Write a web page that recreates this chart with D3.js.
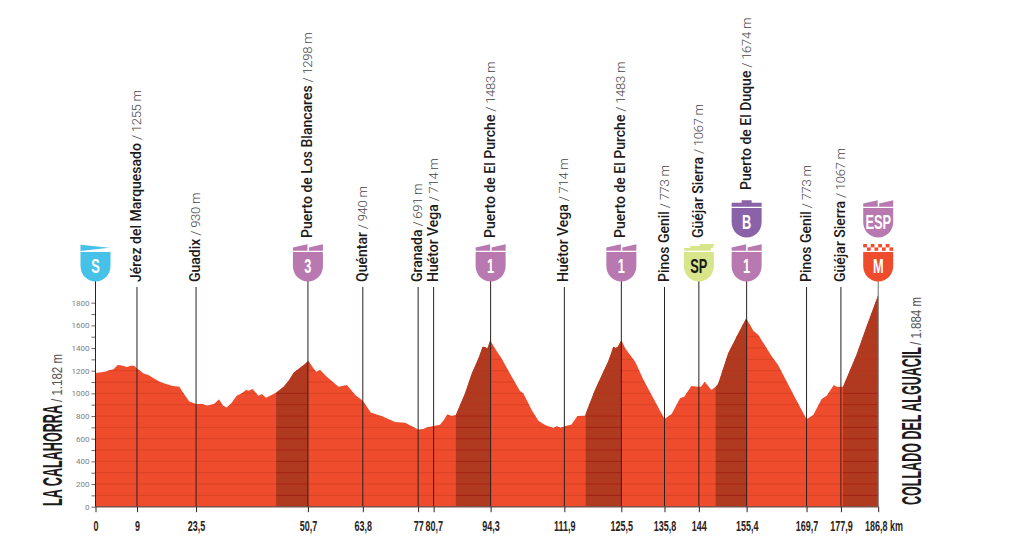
<!DOCTYPE html>
<html>
<head>
<meta charset="utf-8">
<script src="https://cdn.jsdelivr.net/npm/d3@7"></script>
<style>
  html, body { margin: 0; background: #fff; }
  svg { display: block; }
</style>
</head>
<body>
<div id="graph"></div>
<script>
// profile
const profileKm = [0, 2.3, 3.5, 4.3, 5.3, 6, 7.5, 8.5, 9.2, 10, 11.5, 12.6, 15.4, 18.2, 20, 21, 22.4, 24, 25.4, 26.6, 28.2, 29.5, 30.4, 31.3, 32.4, 33.7, 34.9, 36, 36.5, 37.5, 38.9, 39.7, 40.7, 43.1, 44.9, 46.1, 47.3, 48.9, 50, 50.8, 52, 52.7, 53.6, 55.2, 58, 60, 62, 63.8, 65.7, 68.7, 71.5, 73.9, 77, 78.2, 79.2, 82.2, 83, 84, 85, 86, 88.2, 89.8, 91.4, 92.4, 93.1, 93.5, 94.2, 95.3, 96.9, 98.9, 101.3, 102.1, 104.1, 105.7, 107.3, 109.3, 110.1, 111, 112.4, 113.6, 115, 116.8, 119.2, 121.2, 122.4, 123.6, 124.1, 124.6, 125.5, 126.4, 128.8, 130.8, 134, 135.8, 137.5, 139.5, 140.5, 142.2, 143.8, 144.5, 145.4, 147, 148, 148.6, 151, 153.4, 155.3, 157, 158.2, 161.3, 162.9, 166.5, 169.7, 171.3, 173.3, 174.5, 176.2, 176.9, 178.4, 181.6, 184, 186.8];
const profileElev = [1179, 1191, 1206, 1212, 1250, 1247, 1232, 1244, 1244, 1218, 1176, 1162, 1100, 1068, 1059, 1000, 929, 906, 906, 894, 903, 947, 894, 876, 912, 979, 1000, 1032, 1024, 1038, 979, 994, 962, 1006, 1059, 1112, 1182, 1229, 1259, 1288, 1221, 1191, 1206, 1147, 1059, 1074, 985, 935, 832, 794, 747, 741, 682, 685, 700, 724, 759, 815, 800, 809, 1000, 1176, 1309, 1412, 1406, 1391, 1468, 1397, 1309, 1176, 1020, 1000, 853, 759, 721, 694, 709, 697, 715, 726, 800, 803, 1029, 1191, 1285, 1412, 1400, 1406, 1468, 1397, 1279, 1118, 897, 774, 818, 956, 971, 1065, 1059, 1059, 1103, 1029, 1059, 1082, 1353, 1529, 1662, 1553, 1515, 1332, 1250, 994, 771, 809, 950, 979, 1074, 1059, 1059, 1338, 1588, 1868];

// where each marker sits on the distance scale, and what its tick says
const markerKm = [0, 9.9, 24, 50.7, 63.8, 77, 80.7, 94.3, 111.9, 125.5, 135.8, 144, 155.4, 169.7, 177.9, 186.8];
const markerLabels = ["0", "9", "23,5", "50,7", "63,8", "77", "80,7", "94,3", "111,9", "125,5", "135,8", "144", "155,4", "169,7", "177,9", "186,8 km"];

const passKm = [9.9, 24, 50.7, 63.8, 77, 80.7, 94.3, 111.9, 125.5, 135.8, 144, 155.4, 169.7, 177.9];
const passNames = ["Jérez del Marquesado", "Guadix", "Puerto de Los Blancares", "Quéntar", "Granada", "Huétor Vega", "Puerto de El Purche", "Huétor Vega", "Puerto de El Purche", "Pinos Genil", "Güéjar Sierra", "Puerto de El Duque", "Pinos Genil", "Güéjar Sierra"];
const passHeights = ["1255 m", "930 m", "1298 m", "940 m", "691 m", "714 m", "1483 m", "714 m", "1483 m", "773 m", "1067 m", "1674 m", "773 m", "1067 m"];
const passHasBadge = [false, false, true, false, false, false, true, false, true, false, true, true, false, false];
const passHasTwoBadges = [false, false, false, false, false, false, false, false, false, false, false, true, false, false];

const climbStart = [43.1, 86, 117, 148, 178.4];
const climbEnd = [50.7, 94.3, 125.5, 155.4, 186.8];
const climbGridTop = [1000, 800, 800, 1000, 1000];

const badgeKm = [0, 50.7, 94.3, 125.5, 144, 155.4, 155.4, 186.8, 186.8];
const badgeText = ["S", "3", "1", "1", "SP", "1", "B", "M", "ESP"];
const badgeKind = ["start", "climb", "climb", "climb", "sprint", "climb", "bonus", "finish", "climb"];
const badgeRow = [0, 0, 0, 0, 0, 0, 1, 0, 1];

const RED = "#ef4c2e", DARK = "#b03a20", PURPLE = "#b878b0", NARROW = "'Liberation Sans Narrow', 'Liberation Sans', sans-serif";
const badgeColor = { start: "#46c1e8", climb: PURPLE, sprint: "#d8e58a", bonus: "#8a62a8", finish: RED };

const width = 1013, height = 547;

const x = d3.scaleLinear().domain([0, 186.8]).range([95.5, 878.2]);
const y = d3.scaleLinear().domain([0, 1800]).range([506.7, 302.7]);

const svg = d3.select("#graph").append("svg").attr("width", width).attr("height", height);

const area = d3.area()
    .x((d, i) => x(profileKm[i]))
    .y0(y(0))
    .y1(d => y(d));

svg.append("clipPath").attr("id", "profile-clip")
    .append("path").attr("d", area(profileElev));

svg.append("path").attr("d", area(profileElev)).attr("fill", RED);

let inside = svg.append("g").attr("clip-path", "url(#profile-clip)");

climbStart.forEach(function(start, i) {
    inside.append("rect")
        .attr("x", x(start))
        .attr("y", y(1900))
        .attr("width", x(climbEnd[i]) - x(start))
        .attr("height", y(0) - y(1900))
        .attr("fill", DARK);
});

// faint height lines every 100 m, stronger inside the climbs
d3.range(100, 1900, 100).forEach(function(h) {
    inside.append("line")
        .attr("x1", x(0)).attr("x2", x(186.8))
        .attr("y1", y(h)).attr("y2", y(h))
        .attr("stroke", "#d63f22").attr("stroke-width", 0.8);
    climbStart.forEach(function(start, i) {
        inside.append("line")
            .attr("x1", x(start)).attr("x2", x(climbEnd[i]))
            .attr("y1", y(h)).attr("y2", y(h))
            .attr("stroke", h <= climbGridTop[i] ? "#8f1c10" : "#a5341c")
            .attr("stroke-width", 0.8);
    });
});

// elevation axis
let yAxis = svg.append("g")
    .attr("transform", `translate(${x(0)}, 0)`)
    .call(d3.axisLeft(y)
        .tickValues(d3.range(0, 1900, 100))
        .tickSize(4)
        .tickPadding(2)
        .tickFormat(d => d % 200 == 0 ? d : ""));
yAxis.select(".domain").remove();
yAxis.selectAll("line").attr("stroke", "#444").attr("stroke-width", 0.8);
yAxis.selectAll("text")
    .style("font-family", "Roboto, sans-serif")
    .style("font-size", "8px")
    .attr("fill", "#808080");

// marker lines
let badgeBottom = 281, lineTopPlain = 287;
svg.selectAll(".marker").data(markerKm).enter().append("line")
    .attr("class", "marker")
    .attr("x1", d => x(d)).attr("x2", d => x(d))
    .attr("y1", (d, i) => badgeKm.includes(d) ? badgeBottom : lineTopPlain)
    .attr("y2", y(0))
    .attr("stroke", (d, i) => i == markerKm.length - 1 ? "#6f6f6f" : "#2a2220")
    .attr("stroke-width", 1);

// distance axis
let xAxis = svg.append("g")
    .attr("transform", `translate(0, ${y(0)})`)
    .call(d3.axisBottom(x)
        .tickValues(markerKm)
        .tickSize(5.5)
        .tickPadding(8)
        .tickFormat((d, i) => markerLabels[i]));
xAxis.select(".domain").attr("stroke", "#7d5148").attr("stroke-width", 1.6).attr("d", `M${x(0)},0H${x(186.8)}`);
xAxis.selectAll("line").attr("stroke", "#2a2220");
xAxis.selectAll("text")
    .style("font-family", NARROW)
    .style("font-weight", "bold")
    .style("font-size", "15px")
    .attr("fill", "#2a2220")
    .attr("transform", "scale(0.6, 1)");
// the km suffix is hung off the last number, so the number stays on its line
xAxis.selectAll(".tick").filter(d => d == 186.8).select("text")
    .attr("x", 9);

// pass labels along the top
let labels = svg.append("g");
passNames.forEach(function(name, i) {
    let lift = passHasTwoBadges[i] ? 190 : passHasBadge[i] ? 238 : 282;
    let t = labels.append("text")
        .attr("transform", `translate(${x(passKm[i]) + 4}, ${lift}) rotate(-90)`)
        .style("font-family", "Roboto, sans-serif")
        .attr("fill", "#1d1a1a");
    t.append("tspan").style("font-weight", 500).style("font-size", "14px").text(name);
    t.append("tspan").style("font-weight", 300).style("font-size", "13px")
        .style("letter-spacing", "-0.25px")
        .attr("fill", "#444").text(" / " + passHeights[i]);
});

// shields
function shieldTop(g, kind, color) {
    if (kind == "climb") {
        g.append("path").attr("fill", color).attr("d", "M-15,-1.3 V-4.5 L-0.5,-7.7 V-1.3 Z");
        g.append("path").attr("fill", color).attr("d", "M1,-1.3 V-4.5 L15,-7.7 V-1.3 Z");
    } else if (kind == "bonus") {
        g.append("path").attr("fill", color).attr("d", "M-15,-1.2 V-5.2 H-5 V-7.8 H5 V-5.2 H15 V-1.2 Z");
    } else if (kind == "start") {
        g.append("path").attr("fill", color).attr("d", "M-15,-7.3 L14,-4.3 L-15,-1 Z");
    } else if (kind == "sprint") {
        g.append("rect").attr("fill", color).attr("x", 0.7).attr("y", -8).attr("width", 14.6).attr("height", 2);
        g.append("rect").attr("fill", color).attr("x", -8.7).attr("y", -6).attr("width", 22.7).attr("height", 2);
        g.append("rect").attr("fill", color).attr("x", -14.7).attr("y", -4).attr("width", 26.7).attr("height", 2.7);
    } else if (kind == "finish") {
        d3.range(8).forEach(function(c) {
            d3.range(2).forEach(function(r) {
                if ((c + r) % 2 == 0) {
                    g.append("rect").attr("fill", color)
                        .attr("x", -15 + c * 3.75).attr("y", -8 + r * 3.4)
                        .attr("width", 3.75).attr("height", 3.4);
                }
            });
        });
    }
}

badgeText.forEach(function(label, i) {
    let kind = badgeKind[i], color = badgeColor[kind];
    let g = svg.append("g")
        .attr("transform", `translate(${x(badgeKm[i])}, ${badgeRow[i] ? 208 : 252})`);
    shieldTop(g, kind, color);
    g.append("path").attr("fill", color)
        .attr("d", "M-15,0 H15 V14 C15,22.5 8.5,29.5 0,29.5 C-8.5,29.5 -15,22.5 -15,14 Z");
    g.append("text")
        .attr("transform", "translate(0, 20.5) scale(0.64, 1)")
        .attr("text-anchor", "middle")
        .style("font-family", NARROW)
        .style("font-weight", "bold")
        .style("font-size", "20px")
        .attr("fill", kind == "sprint" ? "#1a1a14" : "#fff")
        .text(label);
});

// start and finish names
function townLabel(px, bottom, name, nameLen, altitude, altBottom, altLen) {
    svg.append("text")
        .attr("transform", `translate(${px}, ${bottom}) rotate(-90)`)
        .attr("textLength", nameLen).attr("lengthAdjust", "spacingAndGlyphs")
        .style("font-family", NARROW).style("font-weight", "bold").style("font-size", "28px")
        .attr("fill", "#1d1a1a")
        .text(name);
    svg.append("text")
        .attr("transform", `translate(${px}, ${altBottom}) rotate(-90)`)
        .attr("textLength", altLen).attr("lengthAdjust", "spacingAndGlyphs")
        .style("font-family", NARROW).style("font-size", "14px")
        .attr("fill", "#555")
        .text(altitude);
}
townLabel(62, 506, "LA CALAHORRA", 101, "/ 1.182 m", 402, 48);
townLabel(921, 505, "COLLADO DEL ALGUACIL", 158, "/ 1.884 m", 345, 48);
</script>
</body>
</html>
